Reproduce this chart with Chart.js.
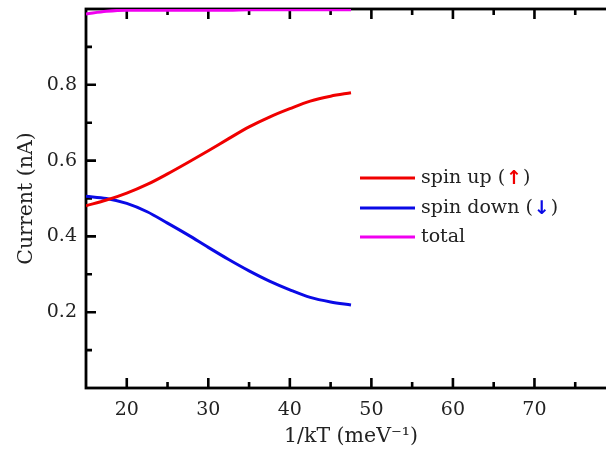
<!DOCTYPE html>
<html>
<head>
<meta charset="utf-8">
<script src="https://cdn.jsdelivr.net/npm/chart.js@4"></script>
<style>
html,body{margin:0;padding:0;overflow:hidden;background:#fff}
#wrap{width:640px;height:452px;position:relative}
</style>
</head>
<body>
<div id="wrap"><canvas id="c"></canvas></div>
<script>
// ---- data ----
const xValues   = [15, 17.5, 20, 22.5, 25, 27.5, 30, 32.5, 35, 37.5, 40, 42.5, 45, 47.5];
const spinUp    = [0.481, 0.496, 0.514, 0.537, 0.565, 0.595, 0.626, 0.658, 0.689, 0.715, 0.737, 0.757, 0.770, 0.779];
const spinDown  = [0.506, 0.500, 0.487, 0.465, 0.435, 0.404, 0.371, 0.339, 0.309, 0.282, 0.259, 0.239, 0.227, 0.219];
const total     = [0.987, 0.994, 0.997, 0.997, 0.997, 0.997, 0.997, 0.997, 0.998, 0.998, 0.998, 0.998, 0.998, 0.998];
const xTicks    = [20, 30, 40, 50, 60, 70];
const xMajorMarks = [20, 30, 40, 50, 60, 70, 80];
const xMinor    = [25, 35, 45, 55, 65, 75];
const yTicks    = [0.2, 0.4, 0.6, 0.8];
const yMinor    = [0.1, 0.3, 0.5, 0.7, 0.9];
const seriesNames = ['spin up', 'spin down', 'total'];
const seriesArrows = ['\u2191', '\u2193', ''];
const seriesColors = ['#f00000', '#0a0ae6', '#f000f0'];

const FONT = "'DejaVu Serif', 'Liberation Serif', serif";
const FS = 19;
const TFS = 20.5;
const TXT = '#222';

function pts(ys){ return xValues.map((x,i)=>({x:x, y:ys[i]})); }

const framePlugin = {
  id: 'frame',
  beforeDatasetsDraw(chart){
    const {ctx, chartArea:a, scales:{x, y}} = chart;
    ctx.save();
    ctx.strokeStyle = '#000';
    ctx.lineWidth = 2.6;
    ctx.lineCap = 'butt';
    const major = 10, minor = 6;
    ctx.beginPath();
    const xt = (list, len) => list.forEach(v => {
      const px = x.getPixelForValue(v);
      ctx.moveTo(px, a.bottom); ctx.lineTo(px, a.bottom - len);
      ctx.moveTo(px, a.top); ctx.lineTo(px, a.top + len);
    });
    const yt = (list, len) => list.forEach(v => {
      const py = y.getPixelForValue(v);
      ctx.moveTo(a.left, py); ctx.lineTo(a.left + len, py);
      ctx.moveTo(a.right, py); ctx.lineTo(a.right - len, py);
    });
    xt(xMajorMarks, major); xt(xMinor, minor);
    yt(yTicks, major); yt(yMinor, minor);
    ctx.stroke();
    ctx.lineWidth = 2.8;
    ctx.strokeRect(a.left, a.top, a.right - a.left, a.bottom - a.top);
    ctx.restore();
  }
};

const legendPlugin = {
  id: 'customLegend',
  afterDraw(chart){
    const {ctx} = chart;
    const x0 = 360, x1 = 415, tx = 421;
    const rows = [178, 208, 237];
    ctx.save();
    chart.data.datasets.forEach((ds, i) => {
      const yy = rows[i];
      ctx.strokeStyle = ds.borderColor;
      ctx.lineWidth = 3;
      ctx.beginPath(); ctx.moveTo(x0, yy); ctx.lineTo(x1, yy); ctx.stroke();
      ctx.font = FS + 'px ' + FONT;
      ctx.fillStyle = TXT;
      ctx.textBaseline = 'middle';
      ctx.textAlign = 'left';
      let cx = tx;
      const name = seriesNames[i];
      ctx.fillText(name, cx, yy);
      cx += ctx.measureText(name).width;
      if (seriesArrows[i]) {
        const open = ' (';
        ctx.fillText(open, cx, yy);
        cx += ctx.measureText(open).width + 1;
        ctx.font = 'bold 19px "DejaVu Sans"';
        ctx.fillStyle = ds.borderColor;
        ctx.fillText(seriesArrows[i], cx, yy + 1);
        cx += ctx.measureText(seriesArrows[i]).width + 1;
        ctx.font = FS + 'px ' + FONT;
        ctx.fillStyle = TXT;
        ctx.fillText(')', cx, yy);
      }
    });
    ctx.restore();
  }
};

new Chart(document.getElementById('c'), {
  type: 'line',
  data: {
    datasets: [
      {label: seriesNames[0], data: pts(spinUp),   borderColor: seriesColors[0], borderWidth: 3, pointRadius: 0, cubicInterpolationMode: 'monotone', fill: false},
      {label: seriesNames[1], data: pts(spinDown), borderColor: seriesColors[1], borderWidth: 3, pointRadius: 0, cubicInterpolationMode: 'monotone', fill: false},
      {label: seriesNames[2], data: pts(total),    borderColor: seriesColors[2], borderWidth: 3, pointRadius: 0, cubicInterpolationMode: 'monotone', fill: false}
    ]
  },
  options: {
    responsive: true,
    maintainAspectRatio: false,
    animation: false,
    layout: {padding: {top: 9, right: 24, left: 0, bottom: 0}},
    plugins: {legend: {display: false}, tooltip: {enabled: false}},
    scales: {
      x: {
        type: 'linear', position: 'bottom', min: 15, max: 80,
        afterBuildTicks: s => { s.ticks = xTicks.map(v => ({value: v})); },
        afterFit: s => { s.height = 64; s.paddingLeft = 0; s.paddingRight = 0; },
        grid: {display: false, drawTicks: false},
        border: {display: false},
        ticks: {font: {family: FONT, size: FS}, color: TXT, padding: 11, maxRotation: 0, autoSkip: false},
        title: {display: true, text: '1/kT (meV\u207B\u00B9)', font: {family: FONT, size: TFS}, color: TXT, padding: {top: 0, bottom: 3}}
      },
      y: {
        type: 'linear', position: 'left', min: 0, max: 1,
        afterBuildTicks: s => { s.ticks = yTicks.map(v => ({value: v})); },
        afterFit: s => { s.width = 86; s.paddingTop = 0; s.paddingBottom = 0; },
        grid: {display: false, drawTicks: false},
        border: {display: false},
        ticks: {font: {family: FONT, size: FS}, color: TXT, padding: 9, callback: v => v.toFixed(1)},
        title: {display: true, text: 'Current (nA)', font: {family: FONT, size: TFS}, color: TXT, padding: {top: 14, bottom: 0}}
      }
    }
  },
  plugins: [framePlugin, legendPlugin]
});
</script>
</body>
</html>
